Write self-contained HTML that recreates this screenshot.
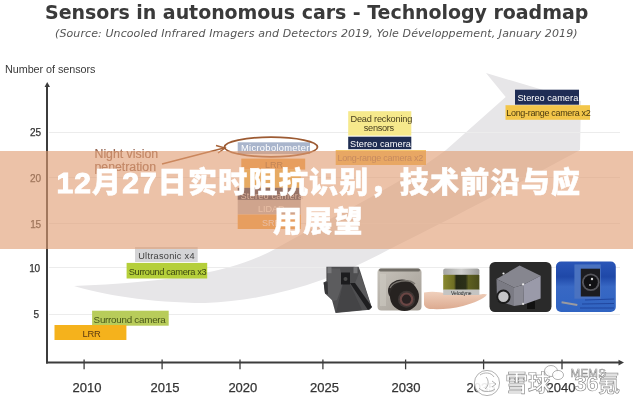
<!DOCTYPE html>
<html><head><meta charset="utf-8">
<style>
html,body{margin:0;padding:0;width:633px;height:400px;overflow:hidden;background:#fff;}
body{position:relative;font-family:"Liberation Sans",sans-serif;}
svg{position:absolute;left:0;top:0;}
.a{position:absolute;white-space:nowrap;}
#title{left:45px;top:0.5px;font:bold 19px/22px "DejaVu Sans",sans-serif;letter-spacing:-0.05px;color:#3a3a3a;}
#sub{left:55px;top:27px;font:italic 11px/13px "DejaVu Sans",sans-serif;letter-spacing:0.1px;color:#555;}
#band{position:absolute;left:0;top:151px;width:633px;height:98px;background:rgba(224,157,115,0.62);}
.bt{position:absolute;white-space:nowrap;color:#fff;font-family:"Liberation Sans","Noto Sans CJK SC",sans-serif;font-weight:900;font-size:29px;line-height:38px;letter-spacing:1.25px;-webkit-text-stroke:0.5px #fff;}
.d{-webkit-text-stroke:1px #fff;font-size:30px;letter-spacing:1.1px;}
</style></head><body>
<svg width="633" height="400" font-family="Liberation Sans, sans-serif">
  <path d="M74 286 C130 284 190 278 230 267 C250 261 262 256 275 249 C330 218 400 185 446 150 L505.7 97 L486 73 L550 92 L581 101 L580 150 C540 172 470 209 388 250 C340 276 280 300 205 303 C150 303 100 294 74 286 Z" fill="#e7e6e8"/>
  <g stroke="#ececec" stroke-width="1">
    <line x1="49" y1="132.5" x2="620" y2="132.5"/><line x1="49" y1="177.5" x2="620" y2="177.5"/><line x1="49" y1="223.5" x2="620" y2="223.5"/><line x1="49" y1="267.5" x2="620" y2="267.5"/><line x1="49" y1="314.5" x2="620" y2="314.5"/>
  </g>
  <g stroke="#3c3c3c" stroke-width="2" fill="none">
    <line x1="47" y1="86" x2="47" y2="363.5"/>
    <line x1="46" y1="362.5" x2="620" y2="362.5"/>
  </g>
  <polygon points="47.2,82 44.6,87 50,87" fill="#3c3c3c"/>
  <polygon points="624,362.6 618.5,359.8 618.5,365.4" fill="#3c3c3c"/>
  <g stroke="#3c3c3c" stroke-width="1.3">
    <line x1="84.1" y1="359.5" x2="84.1" y2="369.3"/><line x1="162.1" y1="359.5" x2="162.1" y2="369.3"/><line x1="240" y1="359.5" x2="240" y2="369.3"/><line x1="322.9" y1="359.5" x2="322.9" y2="369.3"/><line x1="405.6" y1="359.5" x2="405.6" y2="369.3"/><line x1="483.6" y1="359.5" x2="483.6" y2="369.3"/><line x1="562" y1="359.5" x2="562" y2="369.3"/>
  </g>
  <path d="M162 164 L224 148" stroke="#a8643a" stroke-width="1.5" fill="none"/>
  <path d="M216 145.5 L225 148 L218 153" stroke="#a8643a" stroke-width="1.5" fill="none"/>
  <rect x="92.1" y="310.7" width="76.6" height="15.0" fill="#b8cc5a"/>
  <rect x="54.5" y="325.0" width="71.9" height="15.0" fill="#f5b21c"/>
  <rect x="135.0" y="247.0" width="62.7" height="15.0" fill="#d4d4d6"/>
  <rect x="126.6" y="262.9" width="80.6" height="15.6" fill="#b5cf3a"/>
  <rect x="237.7" y="142.3" width="72.3" height="11.7" fill="#a9b5cc"/>
  <rect x="241.3" y="158.6" width="63.9" height="11.0" fill="#f2a040"/>
  <rect x="240.0" y="169.6" width="60.8" height="18.2" fill="#eec048"/>
  <rect x="237.7" y="187.8" width="63.1" height="12.1" fill="#1f2d52"/>
  <rect x="237.7" y="199.9" width="63.1" height="14.6" fill="#b4b0b8"/>
  <rect x="237.7" y="214.5" width="63.1" height="14.5" fill="#f2a040"/>
  <rect x="348.2" y="111.2" width="63.1" height="24.4" fill="#f6e98c"/>
  <rect x="348.2" y="136.7" width="63.1" height="12.5" fill="#1f2d52"/>
  <rect x="335.7" y="150.2" width="90.3" height="14.8" fill="#f3b84a"/>
  <rect x="515.0" y="89.7" width="64.0" height="15.0" fill="#1f2d55"/>
  <rect x="505.5" y="105.2" width="84.5" height="14.6" fill="#f3c64a"/>
  <ellipse cx="271" cy="147" rx="46.5" ry="9.8" fill="none" stroke="#9c5a32" stroke-width="1.8"/>
  <text x="5.0" y="73.3" font-size="10.8" letter-spacing="-0.05" fill="#3a3a3a" >Number of sensors</text>
  <text x="30.0" y="135.9" font-size="10" letter-spacing="0" fill="#333" stroke="#333" stroke-width="0.25">25</text>
  <text x="30.0" y="181.6" font-size="10" letter-spacing="0" fill="#333" stroke="#333" stroke-width="0.25">20</text>
  <text x="30.3" y="227.5" font-size="10" letter-spacing="-0.4" fill="#333" stroke="#333" stroke-width="0.25">15</text>
  <text x="29.3" y="272.0" font-size="10" letter-spacing="-0.4" fill="#333" stroke="#333" stroke-width="0.25">10</text>
  <text x="33.6" y="317.5" font-size="10" letter-spacing="0" fill="#333" stroke="#333" stroke-width="0.25">5</text>
  <text x="72.5" y="392" font-size="13" letter-spacing="0" fill="#333" stroke="#333" stroke-width="0.25">2010</text>
  <text x="150.5" y="392" font-size="13" letter-spacing="0" fill="#333" stroke="#333" stroke-width="0.25">2015</text>
  <text x="228.4" y="392" font-size="13" letter-spacing="0" fill="#333" stroke="#333" stroke-width="0.25">2020</text>
  <text x="310.0" y="392" font-size="13" letter-spacing="0" fill="#333" stroke="#333" stroke-width="0.25">2025</text>
  <text x="391.5" y="392" font-size="13" letter-spacing="0" fill="#333" stroke="#333" stroke-width="0.25">2030</text>
  <text x="466.5" y="392" font-size="13" letter-spacing="0" fill="#333" stroke="#333" stroke-width="0.25">2035</text>
  <text x="546.5" y="392" font-size="13" letter-spacing="0" fill="#333" stroke="#333" stroke-width="0.25">2040</text>
  <text x="93.6" y="323.2" font-size="9.8" letter-spacing="-0.25" fill="#485618" >Surround camera</text>
  <text x="82.5" y="336.6" font-size="9.4" letter-spacing="-0.3" fill="#5a3a10" >LRR</text>
  <text x="138.2" y="258.5" font-size="9.2" letter-spacing="0.27" fill="#404040" >Ultrasonic x4</text>
  <text x="128.8" y="275.1" font-size="9.3" letter-spacing="-0.38" fill="#3c4810" >Surround camera x3</text>
  <text x="241.0" y="151.2" font-size="9.3" letter-spacing="0.33" fill="#ffffff" >Microbolometer</text>
  <text x="265.0" y="168.0" font-size="9.0" letter-spacing="0" fill="#8a5a2a" >LRR</text>
  <text x="240.5" y="198.5" font-size="9.2" letter-spacing="0.2" fill="#d0d0d8" >Stereo camera</text>
  <text x="258.0" y="211.5" font-size="9.0" letter-spacing="0" fill="#f4f4f4" >LIDAR</text>
  <text x="262.0" y="226.0" font-size="9.0" letter-spacing="0" fill="#f4f4f4" >SRR</text>
  <text x="350.5" y="122.2" font-size="9.2" letter-spacing="-0.2" fill="#4a4020" >Dead reckoning</text>
  <text x="363.8" y="131.2" font-size="9.2" letter-spacing="-0.3" fill="#4a4020" >sensors</text>
  <text x="350.0" y="147.1" font-size="9.2" letter-spacing="0.05" fill="#ffffff" >Stereo camera</text>
  <text x="337.5" y="161.0" font-size="9.0" letter-spacing="-0.25" fill="#9a6a40" >Long-range camera x2</text>
  <text x="517.4" y="100.9" font-size="9.2" letter-spacing="0.05" fill="#ffffff" >Stereo camera</text>
  <text x="506.3" y="115.9" font-size="9.0" letter-spacing="-0.32" fill="#4a3a10" >Long-range camera x2</text>
  <text x="94.5" y="157.5" font-size="12.3" letter-spacing="0" fill="#946450" stroke="#946450" stroke-width="0.2">Night vision</text>
  <text x="94.5" y="171.2" font-size="12.3" letter-spacing="0" fill="#946450" stroke="#946450" stroke-width="0.2">penetration</text>
</svg>
<div class="a" id="title">Sensors in autonomous cars - Technology roadmap</div>
<div class="a" id="sub">(Source: Uncooled Infrared Imagers and Detectors 2019, Yole Développement, January 2019)</div>
<!-- photos -->
<svg width="633" height="400" style="position:absolute;left:0;top:0">
  <defs>
    <linearGradient id="gb" x1="0" y1="0" x2="1" y2="1">
      <stop offset="0" stop-color="#c6c2ba"/><stop offset="1" stop-color="#a49e96"/>
    </linearGradient>
    <linearGradient id="gcap" x1="0" y1="0" x2="1" y2="0">
      <stop offset="0" stop-color="#a4a4a2"/><stop offset="0.5" stop-color="#d0d0ce"/><stop offset="1" stop-color="#9a9a98"/>
    </linearGradient>
    <linearGradient id="gol" x1="0" y1="0" x2="1" y2="0">
      <stop offset="0" stop-color="#8a8a30"/><stop offset="0.3" stop-color="#6e6e24"/><stop offset="0.36" stop-color="#262a16"/><stop offset="0.62" stop-color="#2c3018"/><stop offset="0.7" stop-color="#5e6020"/><stop offset="1" stop-color="#4a4c1c"/>
    </linearGradient>
    <linearGradient id="ghand" x1="0" y1="0" x2="0" y2="1">
      <stop offset="0" stop-color="#f0d0bc"/><stop offset="1" stop-color="#dcaa90"/>
    </linearGradient>
    <linearGradient id="gblue" x1="0" y1="0" x2="0" y2="1">
      <stop offset="0" stop-color="#2a56b8"/><stop offset="0.3" stop-color="#1f48a8"/><stop offset="0.5" stop-color="#3868c4"/><stop offset="1" stop-color="#3064c2"/>
    </linearGradient>
  </defs>
  <!-- photo 1 bracket -->
  <polygon points="326.4,266.7 358.6,266.7 360,270.5 371.8,307.6 369.7,309.7 335.5,313.1 332,299.9 325,293.6 323.6,282.4 326.4,281" fill="#4e4e50"/>
  <polygon points="327.5,268.5 340,268.5 343,283 337,300 333,301 328,295" fill="#5c5c5e"/>
  <polygon points="355,283 359.5,272 371.5,307" fill="#5a5a5c"/>
  <polygon points="343,284 350,284 362,310 336,312.5" fill="#444446"/>
  <polygon points="350,283 355,283 372,307 368,310" fill="#1e1e20"/>
  <rect x="341" y="272.5" width="9" height="12" fill="#1c1c1e"/>
  <circle cx="345.5" cy="279" r="2" fill="#4a4a4a"/>
  <rect x="327.5" y="267.2" width="4" height="6" fill="#78787a"/>
  <rect x="353.5" y="267.2" width="4" height="6" fill="#78787a"/>
  <polygon points="323.6,282.4 327.5,282 328,294 325,293.6" fill="#353537"/>
  <!-- photo 2 camera -->
  <rect x="377.5" y="268.5" width="44" height="42" rx="4" fill="url(#gb)"/>
  <rect x="379" y="268.5" width="41" height="3" rx="1.5" fill="#5e5a54" opacity="0.8"/>
  <rect x="380" y="274" width="6" height="32" fill="#cdc9c1" opacity="0.6"/>
  <ellipse cx="402" cy="291" rx="14" ry="11.5" fill="#2c2826"/>
  <circle cx="404.5" cy="296.5" r="14.5" fill="#262220"/>
  <path d="M390 288 C393 281 409 278 415 284" stroke="#7a7670" stroke-width="1.4" fill="none"/>
  <circle cx="406.5" cy="299.2" r="8.5" fill="#3e3634"/>
  <circle cx="406.5" cy="299.2" r="6.8" fill="#6a4644"/>
  <circle cx="406.5" cy="299.2" r="4.6" fill="#2a2222"/>
  <!-- photo 3 hand + lidar -->
  <path d="M424 292.5 C432 291 440 292 446 293.5 L478 295 C482 294 485 293.5 487 294.5 C484 299 474 303 463 306 C452 309 440 309.5 430 309 C426 308.5 424 306 424 304 Z" fill="url(#ghand)"/>
  <rect x="443.2" y="268.5" width="36.2" height="7" rx="2" fill="url(#gcap)"/>
  <rect x="443.2" y="274.8" width="36.2" height="15" fill="url(#gol)"/>
  <rect x="443.2" y="289.7" width="36.2" height="5.3" fill="#c4c4c2"/>
  <text x="451" y="294.5" font-size="5" font-family="Liberation Sans, sans-serif" fill="#222">Velodyne</text>
  <!-- photo 4 -->
  <rect x="489.5" y="262" width="62" height="50" rx="5.4" fill="#2a2a2a"/>
  <rect x="527" y="298" width="8" height="11" fill="#111"/>
  <polygon points="496.5,279 519.6,265.6 540.6,275.8 523.2,284.8 514,287.5" fill="#86868f"/>
  <polygon points="496.5,279 514,287.5 514,306 497,300.5" fill="#7b7b84"/>
  <polygon points="514,287.5 523.2,284.8 523.8,304.6 514,306" fill="#8a8a94"/>
  <polygon points="523.2,284.8 540.6,275.8 540.6,298.6 523.8,304.6" fill="#9a9aa9"/>
  <circle cx="503.4" cy="296.8" r="6.2" fill="#c4c4c6" stroke="#1c1c1c" stroke-width="2"/>
  <circle cx="503.5" cy="273.5" r="1.1" fill="#eee"/>
  <circle cx="523.1" cy="284.3" r="1.1" fill="#eee"/>
  <circle cx="523.1" cy="303.9" r="1.1" fill="#ddd"/>
  <!-- photo 5 -->
  <rect x="556" y="261.6" width="59.8" height="50.3" rx="5" fill="url(#gblue)"/>
  <g stroke="#1c3f96" stroke-width="1.2" opacity="0.8">
    <line x1="585" y1="300" x2="614" y2="299"/>
    <line x1="582" y1="304" x2="614" y2="303.5"/>
    <line x1="580" y1="308" x2="614" y2="308"/>
  </g>
  <rect x="574.4" y="264.4" width="26.4" height="34.3" fill="#4a72c0"/>
  <rect x="580.8" y="268.7" width="19.2" height="27.8" fill="#1c1c20"/>
  <circle cx="590.8" cy="282.3" r="8.8" fill="#56565c"/>
  <circle cx="590.8" cy="282.3" r="7" fill="#111114"/>
  <circle cx="592" cy="279" r="1.2" fill="#ddd"/>
  <circle cx="590" cy="285" r="1" fill="#bbb"/>
  <path d="M561.6 302.2 L577.3 305" stroke="#9a9aa0" stroke-width="2"/>
</svg>
<div id="band"></div>
<div class="bt" style="left:56.4px;top:164px;"><span class="d">12</span>月<span class="d">27</span>日实时阻抗识别，技术前沿与应</div>
<div class="bt" style="left:273px;top:203px;">用展望</div>
<svg width="633" height="400" font-family="Liberation Sans, Noto Sans CJK SC, sans-serif">
  <g fill="#ffffff" fill-opacity="0.9" stroke="#909090" stroke-width="0.7">
    <circle cx="487" cy="383" r="12.6"/>
    <path d="M480 375 C484 372 491 372 494 377 M479 388 C482 392 490 393 495 389 M486 377 C489 380 489 386 485 389 M492 381 L496 384 L492 387" fill="none"/>
    <text x="505.5" y="390.5" font-size="22.5" font-weight="700">雪球</text>
    <ellipse cx="551" cy="371" rx="6.5" ry="5.5"/>
    <ellipse cx="558" cy="375" rx="5.5" ry="4.6"/>
    <text x="574.5" y="390.5" font-size="22" font-weight="700" letter-spacing="-0.5">36氪</text>
    <text x="570.5" y="377" font-size="11.5" stroke-width="0.6" letter-spacing="0.3">MEMS</text>
  </g>
</svg>
</body></html>
